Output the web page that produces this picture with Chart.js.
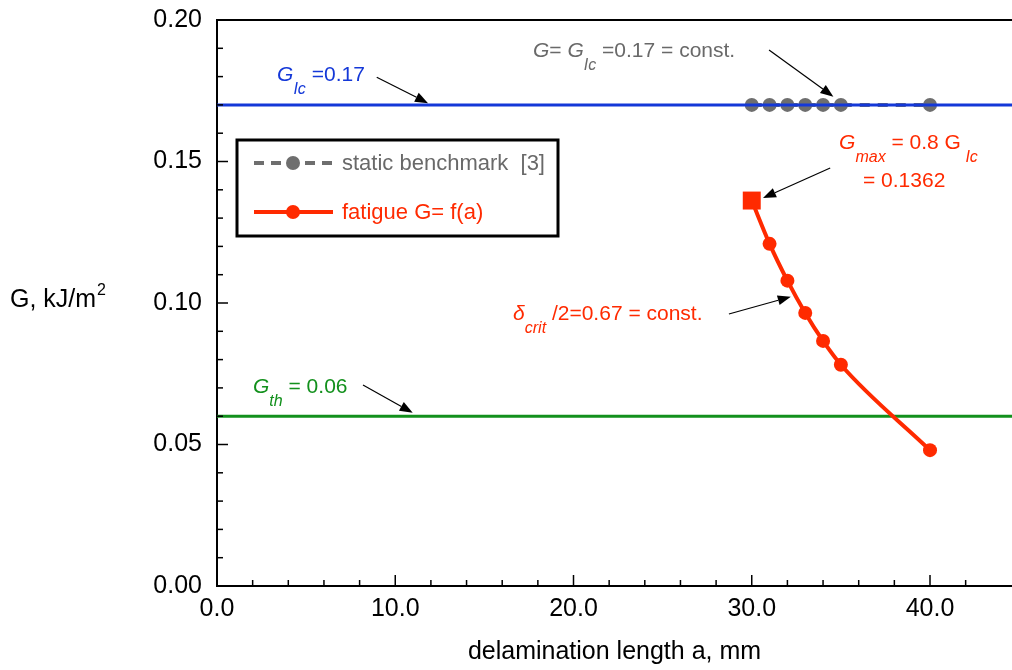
<!DOCTYPE html>
<html>
<head>
<meta charset="utf-8">
<script src="https://cdn.jsdelivr.net/npm/chart.js@4.4.1/dist/chart.umd.min.js"></script>
<style>
  html, body { margin: 0; padding: 0; background: #fff; }
</style>
</head>
<body>
<canvas id="chart" width="1012" height="670"></canvas>
<script>
// delamination length a (mm) vs. energy release rate G (kJ/m^2)
const staticA = [30, 31, 32, 33, 34, 35, 40];
const staticG = [0.17, 0.17, 0.17, 0.17, 0.17, 0.17, 0.17];
const fatigueA = [30, 31, 32, 33, 34, 35, 40];
const fatigueG = [0.1362, 0.1209, 0.1079, 0.0965, 0.0866, 0.0782, 0.0480];
const G_IC = 0.17;
const G_TH = 0.06;
const X_MIN = 0;
const X_MAX = 44.6;
const Y_MIN = 0;
const Y_MAX = 0.20;

const FONT = "'Liberation Sans', Arial, Helvetica, sans-serif";
const RED = '#ff2a00';
const BLUE = '#1438d8';
const GREEN = '#12901c';
const GRAY = '#6e6e6e';
const GRAY_TXT = '#696969';

// text labels, positioned in data units (a, G)
const notes = [
    {x: 3.37, y: 0.1784, color: BLUE, parts: [['G', 'i'], ['Ic', 'sub'], [' =0.17', '']]},
    {x: 17.73, y: 0.1870, color: GRAY_TXT, parts: [['G', 'i'], ['= ', ''], ['G', 'i'], ['Ic', 'sub'], [' =0.17 = const.', '']]},
    {x: 34.90, y: 0.1544, color: RED, parts: [['G', 'i'], ['max', 'sub'], [' = 0.8 G', ''], [' Ic', 'sub']]},
    {x: 36.24, y: 0.1410, color: RED, parts: [['= 0.1362', '']]},
    {x: 16.61, y: 0.0940, color: RED, parts: [['\u03b4', 'i'], ['crit', 'sub'], [' /2=0.67 = const.', '']]},
    {x: 2.02, y: 0.0682, color: GREEN, parts: [['G', 'i'], ['th', 'sub'], [' = 0.06', '']]}
];

const arrows = [
    {from: [8.96, 0.1798], to: [11.84, 0.1706]},
    {from: [30.97, 0.1894], to: [34.58, 0.1729]},
    {from: [34.40, 0.1477], to: [30.63, 0.1371]},
    {from: [28.72, 0.0961], to: [32.19, 0.1022]},
    {from: [8.19, 0.0710], to: [10.98, 0.0612]}
];

const legendItems = [
    {label: 'static benchmark  [3]', color: GRAY, text: GRAY_TXT, dash: [10, 7]},
    {label: 'fatigue G= f(a)', color: RED, text: RED, dash: []}
];

function drawRich(ctx, x, y, parts, color) {
    ctx.fillStyle = color;
    ctx.textAlign = 'left';
    ctx.textBaseline = 'alphabetic';
    let cx = x;
    parts.forEach(([txt, kind]) => {
        const italic = kind === 'i' || kind === 'sub';
        const size = kind === 'sub' ? 16 : 21;
        ctx.font = (italic ? 'italic ' : '') + size + 'px ' + FONT;
        ctx.fillText(txt, cx, kind === 'sub' ? y + 13 : y);
        cx += ctx.measureText(txt).width;
    });
}

function drawArrow(ctx, x1, y1, x2, y2) {
    const ang = Math.atan2(y2 - y1, x2 - x1);
    const len = 13, half = 5;
    ctx.strokeStyle = '#000';
    ctx.fillStyle = '#000';
    ctx.lineWidth = 1.2;
    ctx.beginPath();
    ctx.moveTo(x1, y1);
    ctx.lineTo(x2 - len * Math.cos(ang), y2 - len * Math.sin(ang));
    ctx.stroke();
    ctx.beginPath();
    ctx.moveTo(x2, y2);
    ctx.lineTo(x2 - len * Math.cos(ang) + half * Math.sin(ang), y2 - len * Math.sin(ang) - half * Math.cos(ang));
    ctx.lineTo(x2 - len * Math.cos(ang) - half * Math.sin(ang), y2 - len * Math.sin(ang) + half * Math.cos(ang));
    ctx.closePath();
    ctx.fill();
}

// inward tick marks, top frame line, y title, legend box and notes
const decorPlugin = {
    id: 'decor',
    afterDraw(chart) {
        const ctx = chart.ctx;
        const area = chart.chartArea;
        const xs = chart.scales.x;
        const ys = chart.scales.y;
        ctx.save();

        ctx.strokeStyle = '#000';
        ctx.lineWidth = 1.5;
        xs.ticks.forEach(t => {
            const v = t.value;
            if (Math.abs(v / 2 - Math.round(v / 2)) > 1e-6) return;
            const major = Math.abs(v / 10 - Math.round(v / 10)) < 1e-6;
            const px = xs.getPixelForValue(v);
            ctx.beginPath();
            ctx.moveTo(px, area.bottom);
            ctx.lineTo(px, area.bottom - (major ? 11 : 6));
            ctx.stroke();
        });
        ys.ticks.forEach(t => {
            const v = t.value;
            const major = Math.abs(v * 20 - Math.round(v * 20)) < 1e-6;
            const py = ys.getPixelForValue(v);
            ctx.beginPath();
            ctx.moveTo(area.left, py);
            ctx.lineTo(area.left + (major ? 11 : 6), py);
            ctx.stroke();
        });

        // top frame
        ctx.lineWidth = 2;
        ctx.beginPath();
        ctx.moveTo(area.left - 1, area.top);
        ctx.lineTo(area.right, area.top);
        ctx.stroke();

        // y axis title (horizontal)
        ctx.fillStyle = '#000';
        ctx.textBaseline = 'alphabetic';
        ctx.textAlign = 'left';
        ctx.font = '25px ' + FONT;
        const yt = 'G, kJ/m';
        ctx.fillText(yt, 10, 307);
        const w = ctx.measureText(yt).width;
        ctx.font = '16px ' + FONT;
        ctx.fillText('2', 10 + w + 1, 295);

        // legend
        const bx = area.left + 20, by = area.top + 120;
        ctx.lineWidth = 3;
        ctx.strokeStyle = '#000';
        ctx.strokeRect(bx, by, 321, 96);
        legendItems.forEach((it, i) => {
            const ly = by + 23 + i * 49;
            ctx.strokeStyle = it.color;
            ctx.lineWidth = 4;
            ctx.setLineDash(it.dash);
            ctx.beginPath();
            ctx.moveTo(bx + 17, ly);
            ctx.lineTo(bx + 96, ly);
            ctx.stroke();
            ctx.setLineDash([]);
            ctx.fillStyle = it.color;
            ctx.beginPath();
            ctx.arc(bx + 56, ly, 7, 0, Math.PI * 2);
            ctx.fill();
            ctx.fillStyle = it.text;
            ctx.font = '22px ' + FONT;
            ctx.textBaseline = 'middle';
            ctx.fillText(it.label, bx + 105, ly + 1);
        });

        notes.forEach(n => {
            drawRich(ctx, xs.getPixelForValue(n.x), ys.getPixelForValue(n.y), n.parts, n.color);
        });
        arrows.forEach(a => {
            drawArrow(ctx,
                xs.getPixelForValue(a.from[0]), ys.getPixelForValue(a.from[1]),
                xs.getPixelForValue(a.to[0]), ys.getPixelForValue(a.to[1]));
        });
        ctx.restore();
    }
};

Chart.defaults.font.family = FONT;
Chart.defaults.color = '#000';

const ctx = document.getElementById('chart').getContext('2d');
const chart = new Chart(ctx, {
    type: 'scatter',
    data: {
        datasets: [{
            label: 'fatigue G= f(a)',
            data: fatigueA.map((a, i) => ({x: a, y: fatigueG[i]})),
            showLine: true,
            borderColor: RED,
            backgroundColor: RED,
            borderWidth: 4,
            cubicInterpolationMode: 'monotone',
            pointStyle: c => c.dataIndex === 0 ? 'rect' : 'circle',
            pointRadius: c => c.dataIndex === 0 ? 12.7 : 7,
            pointBorderWidth: 0,
            order: 0
        }, {
            label: 'G_Ic',
            data: [{x: X_MIN, y: G_IC}, {x: X_MAX, y: G_IC}],
            showLine: true,
            borderColor: BLUE,
            borderWidth: 3,
            pointRadius: 0,
            order: 1
        }, {
            label: 'static benchmark [3]',
            data: staticA.map((a, i) => ({x: a, y: staticG[i]})),
            showLine: true,
            borderColor: GRAY,
            backgroundColor: GRAY,
            borderWidth: 4,
            borderDash: [10, 8],
            pointRadius: 7,
            pointBorderWidth: 0,
            order: 2
        }, {
            label: 'G_th',
            data: [{x: X_MIN, y: G_TH}, {x: X_MAX, y: G_TH}],
            showLine: true,
            borderColor: GREEN,
            borderWidth: 3,
            pointRadius: 0,
            order: 3
        }]
    },
    options: {
        responsive: false,
        animation: false,
        events: [],
        layout: {autoPadding: false, padding: {top: 20, right: 0, left: 0, bottom: 0}},
        plugins: {
            legend: {display: false},
            tooltip: {enabled: false}
        },
        scales: {
            x: {
                type: 'linear',
                min: X_MIN,
                max: X_MAX,
                afterFit: s => {
                    s.height = 84;
                    s.paddingLeft = 0;
                    s.paddingRight = 0;
                },
                grid: {display: true, drawOnChartArea: false, drawTicks: false},
                border: {display: true, color: '#000', width: 2},
                ticks: {
                    stepSize: 2,
                    autoSkip: false,
                    maxRotation: 0,
                    padding: 8,
                    font: {size: 25},
                    color: '#000',
                    callback: v => Math.abs(v / 10 - Math.round(v / 10)) < 1e-6 ? v.toFixed(1) : ''
                },
                title: {
                    display: true,
                    text: 'delamination length a, mm',
                    font: {size: 25},
                    color: '#000',
                    padding: {top: 0, bottom: 3}
                }
            },
            y: {
                type: 'linear',
                min: Y_MIN,
                max: Y_MAX,
                afterFit: s => {
                    s.width = 217;
                    s.paddingTop = 0;
                    s.paddingBottom = 0;
                },
                grid: {display: true, drawOnChartArea: false, drawTicks: false},
                border: {display: true, color: '#000', width: 2},
                ticks: {
                    stepSize: 0.01,
                    autoSkip: false,
                    padding: 15,
                    font: {size: 25},
                    color: '#000',
                    callback: v => Math.abs(v * 20 - Math.round(v * 20)) < 1e-6 ? v.toFixed(2) : ''
                }
            }
        }
    },
    plugins: [decorPlugin]
});
</script>
</body>
</html>
